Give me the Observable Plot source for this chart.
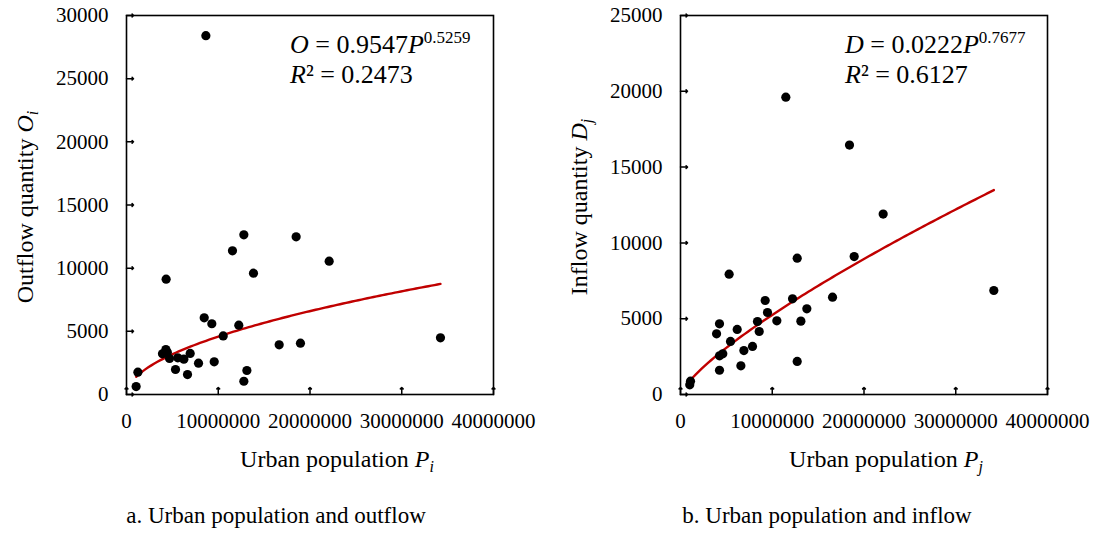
<!DOCTYPE html>
<html><head><meta charset="utf-8">
<script src="https://cdn.jsdelivr.net/npm/d3@7"></script>
<script src="https://cdn.jsdelivr.net/npm/@observablehq/plot@0.6"></script>
<style>
body{margin:0;background:#fff;font-family:"Liberation Serif","Times New Roman",Times,"Nimbus Roman","Nimbus Roman No9 L",FreeSerif,"Noto Serif","DejaVu Serif","Noto Serif CJK SC",serif;color:#000;}
#wrap{position:relative;width:1095px;height:533px;overflow:hidden;}
.panel{position:absolute;top:0;}
.cap{position:absolute;top:503px;font-size:23px;white-space:nowrap;transform:translateX(-50%);line-height:25px;}
</style></head><body><div id="wrap"></div>
<script>
// Panel a: urban population vs outflow
const popOut = [8650000, 12790000, 18490000, 11550000, 22090000, 13840000, 4320000, 8470000, 9300000, 12240000, 10540000, 34220000, 16640000, 18960000, 4290000, 3920000, 4450000, 6940000, 4690000, 5590000, 6250000, 7850000, 9560000, 5340000, 6650000, 13120000, 12790000, 1240000, 1050000];
const outflow = [28400, 12640, 12480, 11370, 10550, 9600, 9130, 6070, 5600, 5490, 4640, 4490, 3930, 4060, 3560, 3220, 3350, 3250, 2850, 2900, 2800, 2480, 2590, 1980, 1580, 1900, 1050, 1770, 630];
// Panel b: urban population vs inflow
const popIn = [11480000, 18420000, 22090000, 12720000, 18930000, 5300000, 34150000, 16570000, 9230000, 12210000, 13770000, 9480000, 10500000, 13120000, 8390000, 8580000, 4250000, 3930000, 6180000, 5450000, 6910000, 7850000, 4250000, 4610000, 6580000, 4250000, 12720000, 1090000, 1010000];
const inflow = [19610, 16450, 11900, 8990, 9100, 7940, 6860, 6420, 6200, 6310, 5650, 5410, 4860, 4840, 4815, 4155, 4660, 4000, 4290, 3500, 2900, 3170, 2550, 2680, 1890, 1600, 2180, 880, 640];
// Ticks
const xTicks = [0, 10000000, 20000000, 30000000, 40000000];
const yTicksOut = [0, 5000, 10000, 15000, 20000, 25000, 30000];
const yTicksIn = [0, 5000, 10000, 15000, 20000, 25000];
// Power-law fits shown on the chart
const fitOut = {a: 0.9547, b: 0.5259, r2: "0.2473", sym: "O"};
const fitIn = {a: 0.0222, b: 0.7677, r2: "0.6127", sym: "D"};
// Texts
const captions = ["a. Urban population and outflow", "b. Urban population and inflow"];
const yTitles = [["Outflow quantity ", "O", "i"], ["Inflow quantity ", "D", "j"]];
const xTitles = [["Urban population ", "P", "i"], ["Urban population ", "P", "j"]];

const wrap = document.getElementById("wrap");
const FONT = '"Liberation Serif", "Times New Roman", Times, "Nimbus Roman", "Nimbus Roman No9 L", FreeSerif, "Noto Serif", "DejaVu Serif", "Noto Serif CJK SC", serif';

function panel(cfg) {
  const pts = cfg.xs.map((x, i) => ({x, y: cfg.ys[i]}));
  const [x0, x1] = d3.extent(cfg.xs);
  const curve = d3.range(101).map(k => {
    const p = x0 + (x1 - x0) * k / 100;
    return {x: p, y: cfg.fit.a * Math.pow(p, cfg.fit.b)};
  });
  const chart = Plot.plot({
    width: cfg.width, height: 480,
    marginLeft: cfg.marginLeft, marginRight: cfg.marginRight, marginTop: 15, marginBottom: 86,
    style: {fontFamily: FONT, fontSize: "21px", color: "#000", background: "#fff", overflow: "visible"},
    x: {domain: [0, 40000000]},
    y: {domain: [0, cfg.yTicks[cfg.yTicks.length - 1]]},
    marks: [
      Plot.line(curve, {x: "x", y: "y", stroke: "#c00000", strokeWidth: 2.4}),
      Plot.dot(pts, {x: "x", y: "y", r: 4.6, fill: "#000", stroke: "none"}),
      Plot.frame({stroke: "#000", strokeWidth: 1.6}),
      Plot.axisX(xTicks, {tickSize: 0, tickPadding: 19, tickFormat: d => String(d), label: null, fontSize: 21}),
      Plot.axisY(cfg.yTicks, {tickSize: 0, tickPadding: 18, tickFormat: d => String(d), label: null, fontSize: 21}),
      Plot.vector(xTicks, {x: d => d, frameAnchor: "bottom", length: 7, rotate: 0, anchor: "start", stroke: "#000", strokeWidth: 1.5}),
      Plot.vector(cfg.yTicks, {y: d => d, frameAnchor: "left", length: 7, rotate: 90, anchor: "start", stroke: "#000", strokeWidth: 1.5})
    ]
  });
  const svg = d3.select(chart);
  const addText = (attrs, size) => {
    const t = svg.append("text").style("font-size", size + "px").style("font-family", FONT).attr("fill", "#000");
    for (const k in attrs) t.attr(k, attrs[k]);
    return t;
  };
  // equation
  const eq = addText({x: cfg.eqX, y: 53, "text-anchor": "start"}, 26);
  eq.append("tspan").attr("font-style", "italic").text(cfg.fit.sym);
  eq.append("tspan").text(" = " + cfg.fit.a.toFixed(4));
  eq.append("tspan").attr("font-style", "italic").text("P");
  eq.append("tspan").attr("font-size", "17px").attr("dy", -10).text(cfg.fit.b.toFixed(4));
  const r2 = addText({x: cfg.eqX, y: 83, "text-anchor": "start"}, 26);
  r2.append("tspan").attr("font-style", "italic").text("R");
  r2.append("tspan").text("² = " + cfg.fit.r2);
  // x title
  const xt = addText({x: cfg.xTitleX, y: 467, "text-anchor": "middle"}, 24);
  xt.append("tspan").text(cfg.xTitle[0]);
  xt.append("tspan").attr("font-style", "italic").text(cfg.xTitle[1]);
  xt.append("tspan").attr("font-style", "italic").attr("font-size", "16px").attr("dy", 5).text(cfg.xTitle[2]);
  // y title
  const yt = addText({transform: `translate(${cfg.yTitleX},207) rotate(-90)`, "text-anchor": "middle"}, 24);
  yt.append("tspan").text(cfg.yTitle[0]);
  yt.append("tspan").attr("font-style", "italic").text(cfg.yTitle[1]);
  yt.append("tspan").attr("font-style", "italic").attr("font-size", "16px").attr("dy", 5).text(cfg.yTitle[2]);

  const div = document.createElement("div");
  div.className = "panel";
  div.style.left = cfg.left + "px";
  div.appendChild(chart);
  wrap.appendChild(div);
  const cap = document.createElement("div");
  cap.className = "cap";
  cap.style.left = cfg.capX + "px";
  cap.style.fontFamily = FONT;
  cap.textContent = cfg.caption;
  wrap.appendChild(cap);
}

panel({xs: popOut, ys: outflow, yTicks: yTicksOut, fit: fitOut, left: 0, width: 547, marginLeft: 126, marginRight: 54,
  eqX: 290, xTitleX: 337, yTitleX: 33, xTitle: xTitles[0], yTitle: yTitles[0], caption: captions[0], capX: 276});
panel({xs: popIn, ys: inflow, yTicks: yTicksIn, fit: fitIn, left: 547, width: 548, marginLeft: 133, marginRight: 48,
  eqX: 845 - 547, xTitleX: 886 - 547, yTitleX: 587 - 547, xTitle: xTitles[1], yTitle: yTitles[1], caption: captions[1], capX: 827});
</script></body></html>
